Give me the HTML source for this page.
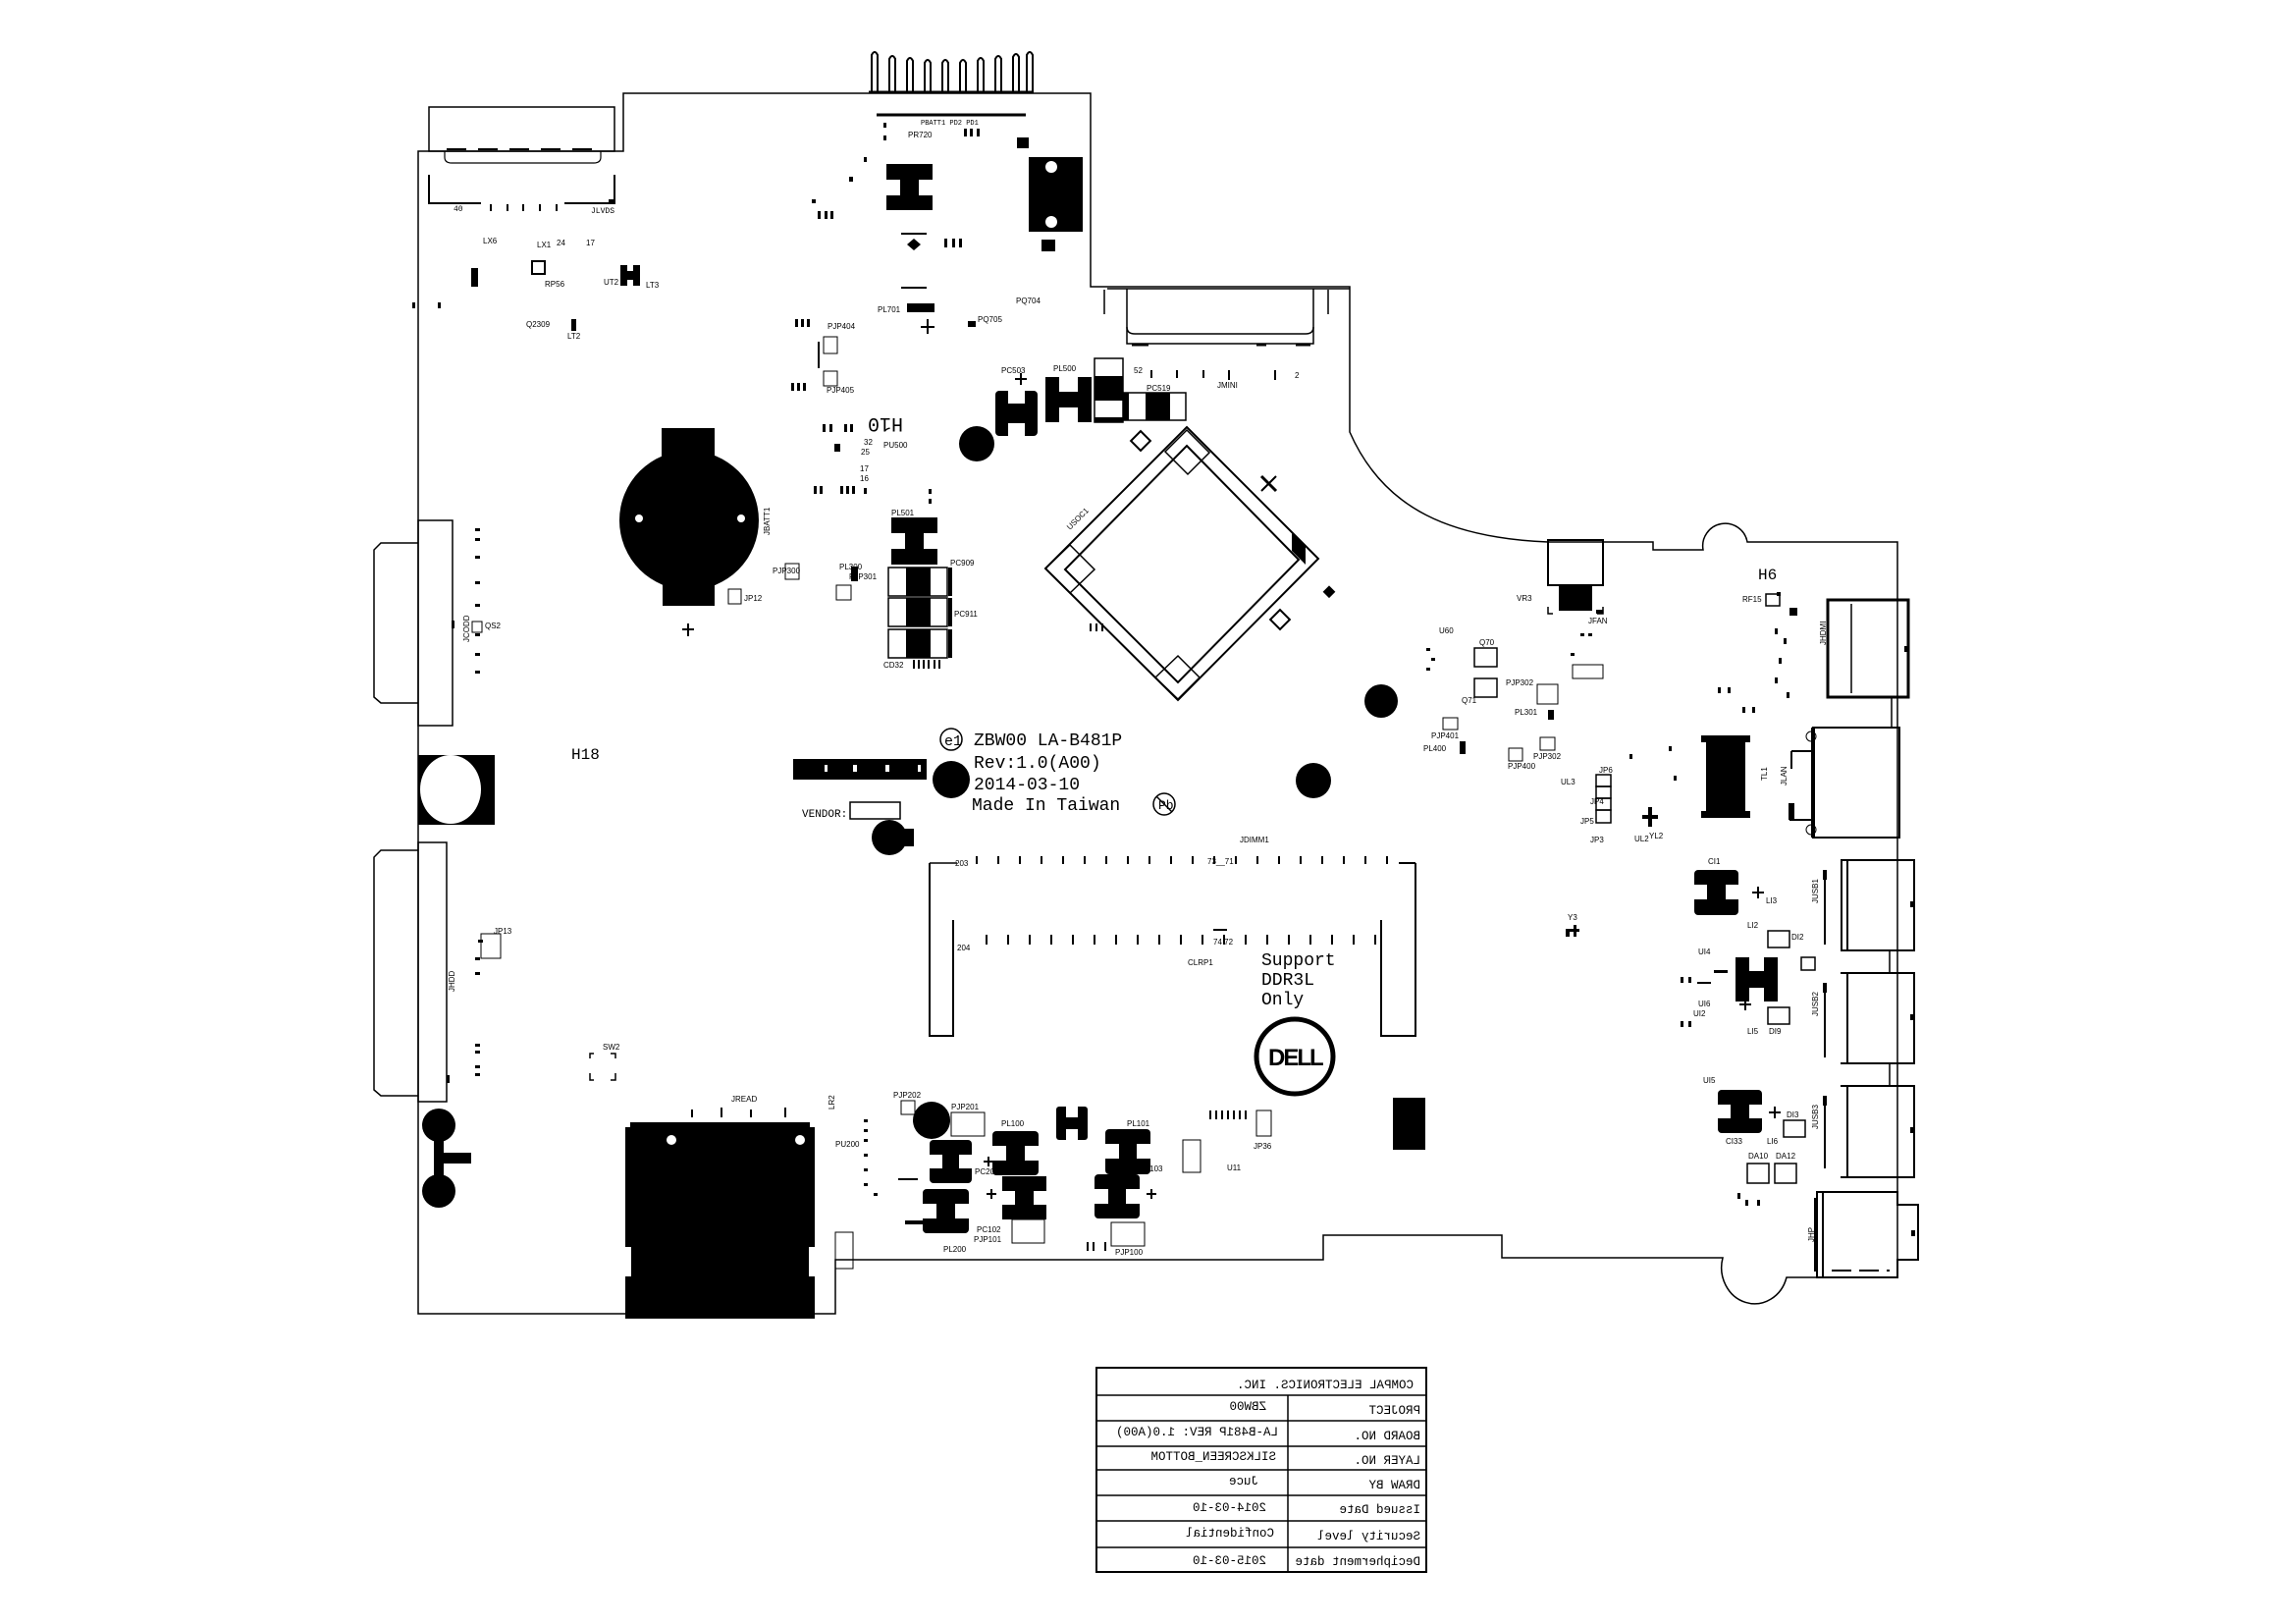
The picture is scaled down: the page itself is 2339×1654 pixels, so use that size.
<!DOCTYPE html>
<html><head><meta charset="utf-8"><style>
html,body{margin:0;padding:0;background:#fff;}
svg{display:block;}
text{font-family:"Liberation Mono",monospace;fill:#000;}
.s{font-family:"Liberation Sans",sans-serif;font-size:8px;}
</style></head><body>
<svg width="2339" height="1654" viewBox="0 0 2339 1654" xmlns="http://www.w3.org/2000/svg">
<rect width="2339" height="1654" fill="#fff"/>
<!-- board outline -->
<path d="M426,154 H635 V95 H1111 V292 H1375 V440 C1410,520 1480,548 1577,552 H1684 V560 H1735 A22,22 0 0 1 1780,552 H1933 V1301 H1820 A33,36 0 0 1 1755,1281 H1530 V1258 H1348 V1283 H851 V1338 H426 Z" fill="none" stroke="#000" stroke-width="1.5"/>
<!-- battery connector top -->
<g stroke="#000" stroke-width="2" fill="none">
<path d="M888,95 V56 Q891,50 894,56 V95 M906,95 V60 Q909,54 912,60 V95 M924,95 V62 Q927,56 930,62 V95 M942,95 V64 Q945,58 948,64 V95 M960,95 V64 Q963,58 966,64 V95 M978,95 V64 Q981,58 984,64 V95 M996,95 V62 Q999,56 1002,62 V95 M1014,95 V60 Q1017,54 1020,60 V95 M1032,95 V58 Q1035,52 1038,58 V95 M1046,95 V56 Q1049,50 1052,56 V95"/>
</g>
<line x1="885" y1="94" x2="1053" y2="94" stroke="#000" stroke-width="3"/>
<line x1="893" y1="117" x2="1045" y2="117" stroke="#000" stroke-width="3"/>
<text x="938" y="127" style="font-size:7px">PBATT1 PD2 PD1</text>
<!-- top-left connector -->
<rect x="437" y="109" width="189" height="45" fill="none" stroke="#000" stroke-width="1.5"/>
<path d="M453,154 V160 Q453,166 460,166 H605 Q612,166 612,160 V154" fill="none" stroke="#000" stroke-width="1.2"/>
<line x1="455" y1="152" x2="610" y2="152" stroke="#000" stroke-width="2" stroke-dasharray="20,12"/>
<path d="M437,178 V207 H490 M626,178 V207 H575" fill="none" stroke="#000" stroke-width="2"/>
<rect x="620" y="203" width="7" height="5"/>
<text x="462" y="215" style="font-size:8px">40</text><text x="602" y="217" style="font-size:8px">JLVDS</text>
<g stroke="#000" stroke-width="2"><line x1="500" y1="208" x2="500" y2="215"/><line x1="517" y1="208" x2="517" y2="215"/><line x1="533" y1="208" x2="533" y2="215"/><line x1="550" y1="208" x2="550" y2="215"/><line x1="567" y1="208" x2="567" y2="215"/></g>
<rect x="480" y="273" width="7" height="19"/><rect x="632" y="270" width="20" height="21"/><rect x="639" y="270" width="6" height="6" fill="#fff"/><rect x="639" y="285" width="6" height="6" fill="#fff"/>
<rect x="542" y="266" width="13" height="13" fill="none" stroke="#000" stroke-width="2"/>
<text x="492" y="248" class="s">LX6</text><text x="547" y="252" class="s">LX1</text><text x="567" y="250" class="s">24</text><text x="597" y="250" class="s">17</text><text x="555" y="292" class="s">RP56</text><text x="536" y="333" class="s">Q2309</text><text x="578" y="345" class="s">LT2</text><text x="615" y="290" class="s">UT2</text><text x="658" y="293" class="s">LT3</text>
<rect x="582" y="325" width="5" height="12"/>
<!-- top middle components -->
<rect x="903" y="167" width="47" height="47"/><rect x="903" y="183" width="14" height="16" fill="#fff"/><rect x="936" y="183" width="14" height="16" fill="#fff"/>
<rect x="1048" y="160" width="55" height="76"/><circle cx="1071" cy="170" r="6" fill="#fff"/><circle cx="1071" cy="226" r="6" fill="#fff"/>
<rect x="1061" y="244" width="14" height="12"/><rect x="1036" y="140" width="12" height="11"/>
<rect x="924" y="309" width="28" height="9"/>
<line x1="918" y1="238" x2="944" y2="238" stroke="#000" stroke-width="2"/><line x1="918" y1="293" x2="944" y2="293" stroke="#000" stroke-width="2"/>
<path d="M924,249 L931,243 L938,249 L931,255 Z" fill="#000"/>
<text x="925" y="140" class="s">PR720</text><text x="894" y="318" class="s">PL701</text><text x="996" y="328" class="s">PQ705</text><text x="1035" y="309" class="s">PQ704</text><text x="843" y="335" class="s">PJP404</text><text x="842" y="400" class="s">PJP405</text>
<line x1="945" y1="325" x2="945" y2="340" stroke="#000" stroke-width="2"/><line x1="938" y1="333" x2="952" y2="333" stroke="#000" stroke-width="2"/>
<rect x="839" y="343" width="14" height="17" fill="none" stroke="#000"/><rect x="839" y="378" width="14" height="15" fill="none" stroke="#000"/>
<line x1="834" y1="348" x2="834" y2="375" stroke="#000" stroke-width="2"/>
<rect x="986" y="327" width="8" height="6"/>
<!-- JMINI connector -->
<path d="M1128,294 H1148 V350 H1338 V294 H1375 M1148,304 V294 H1338" fill="none" stroke="#000" stroke-width="1.5"/>
<path d="M1125,295 V320 M1353,295 V320 M1148,333 Q1148,340 1156,340 H1330 Q1338,340 1338,333" fill="none" stroke="#000" stroke-width="1.5"/>
<line x1="1153" y1="351" x2="1170" y2="351" stroke="#000" stroke-width="3"/><line x1="1280" y1="351" x2="1290" y2="351" stroke="#000" stroke-width="3"/><line x1="1320" y1="351" x2="1335" y2="351" stroke="#000" stroke-width="3"/>
<g stroke="#000" stroke-width="2"><line x1="1173" y1="377" x2="1173" y2="385"/><line x1="1199" y1="377" x2="1199" y2="385"/><line x1="1226" y1="377" x2="1226" y2="385"/><line x1="1252" y1="377" x2="1252" y2="387"/><line x1="1299" y1="377" x2="1299" y2="387"/></g>
<text x="1155" y="380" class="s">52</text><text x="1319" y="385" class="s">2</text><text x="1240" y="395" class="s">JMINI</text>
<!-- power block near PL500 -->
<rect x="1014" y="398" width="43" height="46" rx="4"/><rect x="1027" y="398" width="17" height="13" fill="#fff"/><rect x="1027" y="431" width="17" height="13" fill="#fff"/>
<rect x="1065" y="384" width="47" height="46"/><rect x="1079" y="384" width="19" height="15" fill="#fff"/><rect x="1079" y="415" width="19" height="15" fill="#fff"/>
<rect x="1115" y="365" width="29" height="65" fill="#fff" stroke="#000" stroke-width="1.5"/><rect x="1115" y="383" width="29" height="25"/><rect x="1115" y="425" width="29" height="5"/>
<rect x="1145" y="400" width="63" height="28" fill="#fff" stroke="#000" stroke-width="1.5"/><rect x="1167" y="400" width="25" height="28"/><rect x="1145" y="400" width="5" height="28"/>
<line x1="1040" y1="380" x2="1040" y2="392" stroke="#000" stroke-width="2"/><line x1="1034" y1="386" x2="1046" y2="386" stroke="#000" stroke-width="2"/>
<text x="1020" y="380" class="s">PC503</text><text x="1073" y="378" class="s">PL500</text><text x="1168" y="398" class="s">PC519</text>
<!-- H10 and circles -->
<text x="944" y="440" transform="rotate(180 932 433)" style="font-size:20px">H10</text>
<circle cx="995" cy="452" r="18"/>
<!-- left small components around PU500 -->
<text x="880" y="453" class="s">32</text><text x="877" y="463" class="s">25</text><text x="900" y="456" class="s">PU500</text><text x="876" y="480" class="s">17</text><text x="876" y="490" class="s">16</text>
<rect x="850" y="452" width="6" height="8"/>
<!-- coin battery -->
<circle cx="702" cy="530" r="71"/>
<rect x="674" y="436" width="54" height="40"/><rect x="675" y="580" width="53" height="37"/>
<circle cx="651" cy="528" r="4" fill="#fff"/><circle cx="755" cy="528" r="4" fill="#fff"/>
<text x="784" y="545" class="s" transform="rotate(-90 784 545)">JBATT1</text>
<line x1="701" y1="635" x2="701" y2="648" stroke="#000" stroke-width="2"/><line x1="695" y1="641" x2="707" y2="641" stroke="#000" stroke-width="2"/>
<rect x="742" y="600" width="13" height="15" fill="none" stroke="#000"/><text x="758" y="612" class="s">JP12</text>
<rect x="800" y="574" width="14" height="16" fill="none" stroke="#000"/><text x="787" y="584" class="s">PJP300</text>
<rect x="852" y="596" width="15" height="15" fill="none" stroke="#000"/><text x="865" y="590" class="s">PJP301</text>
<rect x="867" y="577" width="7" height="15"/><text x="855" y="580" class="s">PL300</text>
<!-- PL501 & caps -->
<rect x="908" y="527" width="47" height="48"/><rect x="908" y="543" width="14" height="16" fill="#fff"/><rect x="941" y="543" width="14" height="16" fill="#fff"/>
<g fill="#fff" stroke="#000" stroke-width="1.5"><rect x="905" y="578" width="60" height="29"/><rect x="905" y="609" width="60" height="29"/><rect x="905" y="641" width="60" height="29"/></g>
<rect x="923" y="578" width="25" height="29"/><rect x="923" y="609" width="25" height="29"/><rect x="923" y="641" width="25" height="29"/>
<rect x="966" y="578" width="4" height="29"/><rect x="966" y="609" width="4" height="29"/><rect x="966" y="641" width="4" height="29"/>
<text x="908" y="525" class="s">PL501</text><text x="968" y="576" class="s">PC909</text><text x="972" y="628" class="s">PC911</text><text x="900" y="680" class="s">CD32</text>
<!-- CPU socket -->
<polygon points="1209,435 1343,569 1200,713 1065,579" fill="none" stroke="#000" stroke-width="2"/>
<polygon points="1209,454 1323,570 1200,695 1085,580" fill="none" stroke="#000" stroke-width="2"/>
<polygon points="1187,460 1209,438 1232,461 1210,483" fill="none" stroke="#000" stroke-width="1.5"/>
<polygon points="1065,579 1090,555 1115,580 1090,604" fill="none" stroke="#000" stroke-width="1.5"/>
<polygon points="1177,690 1200,668 1222,690 1200,712" fill="none" stroke="#000" stroke-width="1.5"/>
<polygon points="1316,542 1330,556 1330,575 1316,561" fill="#000"/>
<rect x="1155" y="442" width="14" height="14" fill="none" stroke="#000" stroke-width="2" transform="rotate(45 1162 449)"/>
<rect x="1297" y="624" width="14" height="14" fill="none" stroke="#000" stroke-width="2" transform="rotate(45 1304 631)"/>
<rect x="1350" y="598" width="9" height="9" transform="rotate(45 1354 602)"/>
<line x1="1285" y1="485" x2="1300" y2="500" stroke="#000" stroke-width="3"/><line x1="1300" y1="485" x2="1285" y2="500" stroke="#000" stroke-width="2"/>
<text x="1090" y="540" class="s" transform="rotate(-45 1090 540)">USOC1</text>
<circle cx="1407" cy="714" r="17"/>
<!-- left connectors -->
<rect x="426" y="530" width="35" height="209" fill="none" stroke="#000" stroke-width="1.5"/>
<path d="M426,553 H388 L381,560 V710 L388,716 H426" fill="none" stroke="#000" stroke-width="1.5"/>
<rect x="460" y="632" width="3" height="8"/>
<text x="478" y="654" class="s" transform="rotate(-90 478 654)">JCODD</text>
<rect x="481" y="633" width="10" height="11" fill="none" stroke="#000"/><text x="494" y="640" class="s">QS2</text>
<rect x="426" y="858" width="29" height="264" fill="none" stroke="#000" stroke-width="1.5"/>
<path d="M426,866 H388 L381,873 V1110 L388,1116 H426" fill="none" stroke="#000" stroke-width="1.5"/>
<rect x="455" y="1095" width="3" height="8"/>
<text x="463" y="1010" class="s" transform="rotate(-90 463 1010)">JHDD</text>
<rect x="490" y="951" width="20" height="25" fill="none" stroke="#000"/><text x="503" y="951" class="s">JP13</text>
<rect x="426" y="769" width="78" height="71"/><ellipse cx="459" cy="804" rx="31" ry="35" fill="#fff"/>
<text x="582" y="773" style="font-size:16px">H18</text>
<!-- left bottom key -->
<circle cx="447" cy="1146" r="17"/><circle cx="447" cy="1213" r="17"/><rect x="442" y="1146" width="10" height="67"/><rect x="447" y="1174" width="33" height="11"/>
<path d="M601,1078 V1073 H605 M622,1073 H627 V1078 M601,1093 V1100 H605 M622,1100 H627 V1093" fill="none" stroke="#000" stroke-width="1.5"/><text x="614" y="1069" class="s">SW2</text>
<!-- marking text -->
<circle cx="969" cy="753" r="11" fill="none" stroke="#000" stroke-width="1.5"/><text x="962" y="759" style="font-size:15px">e1</text>
<text x="992" y="759" style="font-size:18px">ZBW00 LA-B481P</text>
<text x="992" y="782" style="font-size:18px">Rev:1.0(A00)</text>
<text x="992" y="804" style="font-size:18px">2014-03-10</text>
<text x="990" y="825" style="font-size:18px">Made In Taiwan</text>
<circle cx="1186" cy="819" r="11" fill="none" stroke="#000" stroke-width="1.5"/><text x="1180" y="824" style="font-size:13px">Pb</text><line x1="1178" y1="811" x2="1194" y2="827" stroke="#000" stroke-width="1.5"/>
<circle cx="969" cy="794" r="19"/><circle cx="1338" cy="795" r="18"/>
<rect x="808" y="773" width="136" height="21"/>
<g fill="#fff"><rect x="840" y="779" width="3" height="7"/><rect x="869" y="779" width="4" height="7"/><rect x="902" y="779" width="4" height="7"/><rect x="935" y="779" width="3" height="7"/></g>
<rect x="866" y="817" width="51" height="17" fill="none" stroke="#000" stroke-width="1.5"/><text x="817" y="832" style="font-size:11px">VENDOR:</text>
<circle cx="906" cy="853" r="18"/><rect x="906" y="844" width="25" height="18"/>
<!-- DIMM -->
<path d="M947,879 V1055 H971 V937 M1442,879 V1055 H1407 V937" fill="none" stroke="#000" stroke-width="2"/>
<line x1="947" y1="879" x2="975" y2="879" stroke="#000" stroke-width="1.5"/><line x1="1425" y1="879" x2="1442" y2="879" stroke="#000" stroke-width="2"/>
<g stroke="#000" stroke-width="2">
<line x1="995" y1="872" x2="995" y2="880"/><line x1="1017" y1="872" x2="1017" y2="880"/><line x1="1039" y1="872" x2="1039" y2="880"/><line x1="1061" y1="872" x2="1061" y2="880"/><line x1="1083" y1="872" x2="1083" y2="880"/><line x1="1105" y1="872" x2="1105" y2="880"/><line x1="1127" y1="872" x2="1127" y2="880"/><line x1="1149" y1="872" x2="1149" y2="880"/><line x1="1171" y1="872" x2="1171" y2="880"/><line x1="1193" y1="872" x2="1193" y2="880"/><line x1="1215" y1="872" x2="1215" y2="880"/><line x1="1237" y1="872" x2="1237" y2="880"/><line x1="1259" y1="872" x2="1259" y2="880"/><line x1="1281" y1="872" x2="1281" y2="880"/><line x1="1303" y1="872" x2="1303" y2="880"/><line x1="1325" y1="872" x2="1325" y2="880"/><line x1="1347" y1="872" x2="1347" y2="880"/><line x1="1369" y1="872" x2="1369" y2="880"/><line x1="1391" y1="872" x2="1391" y2="880"/><line x1="1413" y1="872" x2="1413" y2="880"/>
<line x1="1005" y1="952" x2="1005" y2="962"/><line x1="1027" y1="952" x2="1027" y2="962"/><line x1="1049" y1="952" x2="1049" y2="962"/><line x1="1071" y1="952" x2="1071" y2="962"/><line x1="1093" y1="952" x2="1093" y2="962"/><line x1="1115" y1="952" x2="1115" y2="962"/><line x1="1137" y1="952" x2="1137" y2="962"/><line x1="1159" y1="952" x2="1159" y2="962"/><line x1="1181" y1="952" x2="1181" y2="962"/><line x1="1203" y1="952" x2="1203" y2="962"/><line x1="1225" y1="952" x2="1225" y2="962"/><line x1="1247" y1="952" x2="1247" y2="962"/><line x1="1269" y1="952" x2="1269" y2="962"/><line x1="1291" y1="952" x2="1291" y2="962"/><line x1="1313" y1="952" x2="1313" y2="962"/><line x1="1335" y1="952" x2="1335" y2="962"/><line x1="1357" y1="952" x2="1357" y2="962"/><line x1="1379" y1="952" x2="1379" y2="962"/><line x1="1401" y1="952" x2="1401" y2="962"/>
</g>
<line x1="1236" y1="947" x2="1250" y2="947" stroke="#000" stroke-width="2"/>
<text x="973" y="882" class="s">203</text><text x="1230" y="880" class="s">73__71</text><text x="1263" y="858" class="s">JDIMM1</text><text x="975" y="968" class="s">204</text><text x="1236" y="962" class="s">74 72</text><text x="1210" y="983" class="s">CLRP1</text>
<text x="1285" y="983" style="font-size:18px;font-family:'Liberation Mono',monospace">Support</text>
<text x="1285" y="1003" style="font-size:18px">DDR3L</text>
<text x="1285" y="1023" style="font-size:18px">Only</text>
<!-- DELL logo -->
<ellipse cx="1319" cy="1076" rx="39" ry="38" fill="none" stroke="#000" stroke-width="5"/>
<text x="1292" y="1085" style="font-family:'Liberation Sans',sans-serif;font-weight:bold;font-size:24px;letter-spacing:-2px">DELL</text>
<rect x="1419" y="1118" width="33" height="53"/>
<!-- JREAD -->
<rect x="637" y="1143" width="193" height="200"/><circle cx="684" cy="1161" r="5" fill="#fff"/><circle cx="815" cy="1161" r="5" fill="#fff"/>
<rect x="637" y="1143" width="5" height="5" fill="#fff"/><rect x="825" y="1143" width="5" height="5" fill="#fff"/>
<rect x="637" y="1270" width="6" height="30" fill="#fff"/><rect x="824" y="1270" width="6" height="30" fill="#fff"/>
<g stroke="#000" stroke-width="2"><line x1="705" y1="1130" x2="705" y2="1138"/><line x1="735" y1="1128" x2="735" y2="1138"/><line x1="765" y1="1130" x2="765" y2="1138"/><line x1="800" y1="1128" x2="800" y2="1138"/></g>
<text x="745" y="1122" class="s">JREAD</text><text x="850" y="1130" class="s" transform="rotate(-90 850 1130)">LR2</text>
<!-- bottom power -->
<rect x="947" y="1161" width="43" height="44" rx="4"/><rect x="947" y="1176" width="13" height="14" fill="#fff"/><rect x="977" y="1176" width="13" height="14" fill="#fff"/>
<rect x="940" y="1211" width="47" height="45" rx="4"/><rect x="940" y="1226" width="14" height="15" fill="#fff"/><rect x="973" y="1226" width="14" height="15" fill="#fff"/>
<rect x="1011" y="1152" width="47" height="45" rx="4"/><rect x="1011" y="1167" width="14" height="15" fill="#fff"/><rect x="1044" y="1167" width="14" height="15" fill="#fff"/>
<rect x="1021" y="1198" width="45" height="44"/><rect x="1021" y="1213" width="13" height="14" fill="#fff"/><rect x="1053" y="1213" width="13" height="14" fill="#fff"/>
<rect x="1126" y="1150" width="46" height="46" rx="4"/><rect x="1126" y="1165" width="14" height="15" fill="#fff"/><rect x="1158" y="1165" width="14" height="15" fill="#fff"/>
<rect x="1115" y="1196" width="46" height="45" rx="4"/><rect x="1115" y="1211" width="14" height="15" fill="#fff"/><rect x="1147" y="1211" width="14" height="15" fill="#fff"/>
<rect x="1076" y="1127" width="32" height="34" rx="3"/><rect x="1086" y="1127" width="12" height="11" fill="#fff"/><rect x="1086" y="1150" width="12" height="11" fill="#fff"/>
<circle cx="949" cy="1141" r="19"/>
<rect x="918" y="1121" width="14" height="14" fill="none" stroke="#000"/><rect x="969" y="1133" width="34" height="24" fill="none" stroke="#000"/>
<rect x="1031" y="1242" width="33" height="24" fill="none" stroke="#000"/><rect x="1132" y="1245" width="34" height="24" fill="none" stroke="#000"/>
<rect x="851" y="1255" width="18" height="37" fill="none" stroke="#000"/>
<rect x="1205" y="1161" width="18" height="33" fill="none" stroke="#000"/><rect x="1280" y="1131" width="15" height="26" fill="none" stroke="#000"/>
<g stroke="#000" stroke-width="2"><path d="M1002,1183 h10 M1007,1178 v10 M1005,1216 h10 M1010,1211 v10 M1168,1216 h10 M1173,1211 v10"/></g>
<text x="910" y="1118" class="s">PJP202</text><text x="969" y="1130" class="s">PJP201</text><text x="1020" y="1147" class="s">PL100</text><text x="1148" y="1147" class="s">PL101</text><text x="993" y="1196" class="s">PC201</text><text x="1160" y="1193" class="s">PC103</text><text x="995" y="1255" class="s">PC102</text><text x="992" y="1265" class="s">PJP101</text><text x="961" y="1275" class="s">PL200</text><text x="1136" y="1278" class="s">PJP100</text><text x="1277" y="1170" class="s">JP36</text><text x="1250" y="1192" class="s">U11</text><text x="851" y="1168" class="s">PU200</text>
<rect x="922" y="1243" width="18" height="4"/><rect x="915" y="1200" width="20" height="2"/>
<!-- right area -->
<rect x="1577" y="550" width="56" height="46" fill="none" stroke="#000" stroke-width="2"/><rect x="1588" y="596" width="34" height="26"/>
<path d="M1577,618 V625 H1582 M1633,618 V625 H1627" fill="none" stroke="#000" stroke-width="1.5"/><rect x="1626" y="621" width="7" height="4"/>
<text x="1618" y="635" class="s">JFAN</text>
<rect x="1602" y="677" width="31" height="14" fill="none" stroke="#000"/>
<text x="1791" y="590" style="font-size:16px">H6</text>
<rect x="1799" y="605" width="14" height="12" fill="none" stroke="#000" stroke-width="1.5"/><rect x="1810" y="603" width="4" height="4"/><text x="1775" y="613" class="s">RF15</text>
<rect x="1823" y="619" width="8" height="8"/>
<rect x="1862" y="611" width="82" height="99" fill="none" stroke="#000" stroke-width="3"/><line x1="1886" y1="615" x2="1886" y2="706" stroke="#000" stroke-width="1.5"/><rect x="1940" y="658" width="3" height="6"/>
<text x="1863" y="660" class="s" transform="rotate(-90 1860 660)">JHDMI</text>
<text x="1545" y="612" class="s">VR3</text>
<!-- Q70 etc -->
<rect x="1502" y="660" width="23" height="19" fill="none" stroke="#000" stroke-width="1.5"/><rect x="1502" y="691" width="23" height="19" fill="none" stroke="#000" stroke-width="1.5"/>
<text x="1507" y="657" class="s">Q70</text><text x="1489" y="716" class="s">Q71</text><text x="1466" y="645" class="s">U60</text>
<rect x="1566" y="697" width="21" height="20" fill="none" stroke="#000"/><text x="1534" y="698" class="s">PJP302</text>
<rect x="1577" y="723" width="6" height="10"/><text x="1543" y="728" class="s">PL301</text>
<rect x="1470" y="731" width="15" height="12" fill="none" stroke="#000"/><text x="1458" y="752" class="s">PJP401</text>
<rect x="1487" y="755" width="6" height="13"/><text x="1450" y="765" class="s">PL400</text>
<rect x="1537" y="762" width="14" height="13" fill="none" stroke="#000"/><text x="1536" y="783" class="s">PJP400</text>
<rect x="1569" y="751" width="15" height="13" fill="none" stroke="#000"/><text x="1562" y="773" class="s">PJP302</text>
<g fill="none" stroke="#000" stroke-width="1.5"><rect x="1626" y="789" width="15" height="12"/><rect x="1626" y="801" width="15" height="12"/><rect x="1626" y="813" width="15" height="12"/><rect x="1626" y="825" width="15" height="13"/></g>
<text x="1629" y="787" class="s">JP6</text><text x="1620" y="819" class="s">JP4</text><text x="1610" y="839" class="s">JP5</text><text x="1620" y="858" class="s">JP3</text><text x="1665" y="857" class="s">UL2</text><text x="1680" y="854" class="s">YL2</text><text x="1590" y="799" class="s">UL3</text>
<rect x="1673" y="830" width="16" height="4"/><rect x="1679" y="822" width="4" height="20"/>
<rect x="1733" y="749" width="50" height="84"/><rect x="1733" y="756" width="5" height="70" fill="#fff"/><rect x="1778" y="756" width="5" height="70" fill="#fff"/>
<rect x="1733" y="749" width="50" height="84" fill="none" stroke="#000" stroke-width="0"/>
<text x="1800" y="795" class="s" transform="rotate(-90 1800 795)">TL1</text><text x="1820" y="800" class="s" transform="rotate(-90 1820 800)">JLAN</text>
<path d="M1847,741 H1935 V853 H1847 Z" fill="none" stroke="#000" stroke-width="2"/><path d="M1847,741 V853 M1825,765 H1847 M1825,765 V783 M1823,835 V818 M1823,835 H1847" fill="none" stroke="#000" stroke-width="2"/>
<rect x="1823" y="818" width="5" height="17"/>
<rect x="1845" y="741" width="4" height="112"/>
<circle cx="1845" cy="750" r="5" fill="none" stroke="#000"/><circle cx="1845" cy="845" r="5" fill="none" stroke="#000"/>
<line x1="1927" y1="710" x2="1927" y2="741" stroke="#000" stroke-width="1.5"/>
<!-- USB ports -->
<g fill="none" stroke="#000" stroke-width="2">
<path d="M1875,876 H1950 V968 H1875 M1882,876 V968"/>
<path d="M1875,991 H1950 V1083 H1875 M1882,991 V1083"/>
<path d="M1875,1106 H1950 V1199 H1875 M1882,1106 V1199"/>
<path d="M1851,1214 H1933 V1227 H1954 V1283 H1933 V1301 H1851 Z M1857,1214 V1301"/>
</g>
<line x1="1876" y1="876" x2="1876" y2="968" stroke="#000" stroke-width="2"/>
<rect x="1857" y="886" width="4" height="10"/><line x1="1859" y1="886" x2="1859" y2="962" stroke="#000" stroke-width="2"/>
<line x1="1859" y1="1001" x2="1859" y2="1077" stroke="#000" stroke-width="2"/><rect x="1857" y="1001" width="4" height="10"/>
<line x1="1859" y1="1116" x2="1859" y2="1190" stroke="#000" stroke-width="2"/><rect x="1857" y="1116" width="4" height="10"/>
<line x1="1849" y1="1220" x2="1849" y2="1295" stroke="#000" stroke-width="2"/>
<line x1="1866" y1="1294" x2="1925" y2="1294" stroke="#000" stroke-width="2" stroke-dasharray="20,8"/>
<rect x="1946" y="918" width="4" height="6"/><rect x="1946" y="1033" width="4" height="6"/><rect x="1946" y="1148" width="4" height="6"/><rect x="1947" y="1253" width="4" height="6"/>
<line x1="1925" y1="968" x2="1925" y2="991" stroke="#000" stroke-width="1.5"/><line x1="1925" y1="1083" x2="1925" y2="1106" stroke="#000" stroke-width="1.5"/>
<text x="1852" y="920" class="s" transform="rotate(-90 1852 920)">JUSB1</text><text x="1852" y="1035" class="s" transform="rotate(-90 1852 1035)">JUSB2</text><text x="1852" y="1150" class="s" transform="rotate(-90 1852 1150)">JUSB3</text><text x="1848" y="1265" class="s" transform="rotate(-90 1848 1265)">JHP</text>
<!-- right inductors -->
<rect x="1726" y="886" width="45" height="46" rx="4"/><rect x="1726" y="901" width="13" height="15" fill="#fff"/><rect x="1758" y="901" width="13" height="15" fill="#fff"/>
<rect x="1768" y="975" width="43" height="45"/><rect x="1782" y="975" width="15" height="14" fill="#fff"/><rect x="1782" y="1006" width="15" height="14" fill="#fff"/>
<rect x="1750" y="1110" width="45" height="44" rx="4"/><rect x="1750" y="1125" width="13" height="14" fill="#fff"/><rect x="1782" y="1125" width="13" height="14" fill="#fff"/>
<g stroke="#000" stroke-width="2"><path d="M1785,909 h12 M1791,903 v12 M1772,1023 h12 M1778,1017 v12 M1802,1133 h12 M1808,1127 v12"/></g>
<g fill="none" stroke="#000" stroke-width="1.5"><rect x="1801" y="948" width="22" height="17"/><rect x="1801" y="1026" width="22" height="17"/><rect x="1817" y="1141" width="22" height="17"/><rect x="1780" y="1185" width="22" height="20"/><rect x="1808" y="1185" width="22" height="20"/><rect x="1835" y="975" width="14" height="13"/></g>
<text x="1740" y="880" class="s">CI1</text><text x="1758" y="1165" class="s">CI33</text><text x="1781" y="1180" class="s">DA10</text><text x="1809" y="1180" class="s">DA12</text><text x="1825" y="957" class="s">DI2</text><text x="1802" y="1053" class="s">DI9</text><text x="1820" y="1138" class="s">DI3</text><text x="1799" y="920" class="s">LI3</text><text x="1780" y="945" class="s">LI2</text><text x="1780" y="1053" class="s">LI5</text><text x="1800" y="1165" class="s">LI6</text><text x="1730" y="972" class="s">UI4</text><text x="1730" y="1025" class="s">UI6</text><text x="1735" y="1103" class="s">UI5</text><text x="1725" y="1035" class="s">UI2</text>
<rect x="1746" y="988" width="14" height="3"/><rect x="1729" y="1000" width="14" height="2"/>
<rect x="1595" y="946" width="4" height="8"/><rect x="1599" y="946" width="10" height="3"/><rect x="1603" y="942" width="3" height="12"/><text x="1597" y="937" class="s">Y3</text>
<!-- scattered small components -->
<g fill="#000">
<rect x="900" y="125" width="3" height="5"/><rect x="900" y="138" width="3" height="5"/><rect x="880" y="160" width="3" height="5"/><rect x="865" y="180" width="4" height="5"/><rect x="827" y="203" width="4" height="4"/><rect x="833" y="215" width="3" height="8"/><rect x="840" y="215" width="3" height="8"/><rect x="846" y="215" width="3" height="8"/>
<rect x="982" y="131" width="3" height="8"/><rect x="988" y="131" width="3" height="8"/><rect x="995" y="131" width="3" height="8"/>
<rect x="962" y="243" width="3" height="9"/><rect x="970" y="243" width="3" height="9"/><rect x="977" y="243" width="3" height="9"/>
<rect x="810" y="325" width="3" height="8"/><rect x="816" y="325" width="3" height="8"/><rect x="822" y="325" width="3" height="8"/>
<rect x="806" y="390" width="3" height="8"/><rect x="812" y="390" width="3" height="8"/><rect x="818" y="390" width="3" height="8"/>
<rect x="838" y="432" width="3" height="8"/><rect x="845" y="432" width="3" height="8"/><rect x="860" y="432" width="3" height="8"/><rect x="866" y="432" width="3" height="8"/>
<rect x="829" y="495" width="3" height="8"/><rect x="835" y="495" width="3" height="8"/><rect x="856" y="495" width="3" height="8"/><rect x="862" y="495" width="3" height="8"/><rect x="868" y="495" width="3" height="8"/><rect x="880" y="497" width="3" height="6"/>
<rect x="946" y="498" width="3" height="5"/><rect x="946" y="508" width="3" height="5"/>
<rect x="930" y="672" width="2" height="9"/><rect x="935" y="672" width="2" height="9"/><rect x="940" y="672" width="2" height="9"/><rect x="945" y="672" width="2" height="9"/><rect x="951" y="672" width="2" height="9"/><rect x="956" y="672" width="2" height="9"/>
<rect x="1110" y="635" width="2" height="8"/><rect x="1116" y="635" width="2" height="8"/><rect x="1122" y="635" width="2" height="8"/>
<rect x="484" y="538" width="5" height="3"/><rect x="484" y="548" width="5" height="3"/><rect x="484" y="566" width="5" height="3"/><rect x="484" y="592" width="5" height="3"/><rect x="484" y="615" width="5" height="3"/><rect x="484" y="645" width="5" height="3"/><rect x="484" y="665" width="5" height="3"/><rect x="484" y="683" width="5" height="3"/>
<rect x="484" y="1063" width="5" height="3"/><rect x="484" y="1070" width="5" height="3"/><rect x="484" y="1085" width="5" height="3"/><rect x="484" y="1093" width="5" height="3"/><rect x="484" y="990" width="5" height="3"/><rect x="484" y="975" width="5" height="3"/><rect x="487" y="957" width="5" height="3"/>
<rect x="446" y="308" width="3" height="6"/><rect x="420" y="308" width="3" height="6"/>
<rect x="1232" y="1131" width="2" height="9"/><rect x="1238" y="1131" width="2" height="9"/><rect x="1244" y="1131" width="2" height="9"/><rect x="1250" y="1131" width="2" height="9"/><rect x="1256" y="1131" width="2" height="9"/><rect x="1262" y="1131" width="2" height="9"/><rect x="1268" y="1131" width="2" height="9"/>
<rect x="880" y="1140" width="4" height="3"/><rect x="880" y="1150" width="4" height="3"/><rect x="880" y="1160" width="4" height="3"/><rect x="880" y="1175" width="4" height="3"/><rect x="880" y="1190" width="4" height="3"/><rect x="880" y="1205" width="4" height="3"/><rect x="890" y="1215" width="4" height="3"/>
<rect x="1107" y="1265" width="2" height="9"/><rect x="1113" y="1265" width="2" height="9"/><rect x="1125" y="1265" width="2" height="9"/>
<rect x="1453" y="660" width="4" height="3"/><rect x="1458" y="670" width="4" height="3"/><rect x="1453" y="680" width="4" height="3"/>
<rect x="1610" y="645" width="4" height="3"/><rect x="1618" y="645" width="4" height="3"/><rect x="1600" y="665" width="4" height="3"/>
<rect x="1660" y="768" width="3" height="5"/><rect x="1700" y="760" width="3" height="5"/><rect x="1705" y="790" width="3" height="5"/>
<rect x="1808" y="640" width="3" height="6"/><rect x="1817" y="650" width="3" height="6"/><rect x="1812" y="670" width="3" height="6"/><rect x="1808" y="690" width="3" height="6"/><rect x="1820" y="705" width="3" height="6"/>
<rect x="1750" y="700" width="3" height="6"/><rect x="1760" y="700" width="3" height="6"/><rect x="1775" y="720" width="3" height="6"/><rect x="1785" y="720" width="3" height="6"/>
<rect x="1712" y="995" width="3" height="6"/><rect x="1720" y="995" width="3" height="6"/><rect x="1712" y="1040" width="3" height="6"/><rect x="1720" y="1040" width="3" height="6"/>
<rect x="1770" y="1215" width="3" height="6"/><rect x="1778" y="1222" width="3" height="6"/><rect x="1790" y="1222" width="3" height="6"/>
</g>
<!-- title block (mirrored) -->
<rect x="1117" y="1393" width="336" height="208" fill="none" stroke="#000" stroke-width="2"/>
<g stroke="#000" stroke-width="1.5">
<line x1="1117" y1="1421" x2="1453" y2="1421"/><line x1="1117" y1="1447" x2="1453" y2="1447"/><line x1="1117" y1="1473" x2="1453" y2="1473"/><line x1="1117" y1="1497" x2="1453" y2="1497"/><line x1="1117" y1="1523" x2="1453" y2="1523"/><line x1="1117" y1="1549" x2="1453" y2="1549"/><line x1="1117" y1="1576" x2="1453" y2="1576"/>
<line x1="1312" y1="1421" x2="1312" y2="1601"/>
</g>
<g transform="translate(2570,0) scale(-1,1)" style="font-family:'Liberation Mono',monospace;font-size:12.5px">
<text x="1130" y="1414">COMPAL ELECTRONICS. INC.</text>
<text x="1123" y="1440">PROJECT</text><text x="1123" y="1466">BOARD NO.</text><text x="1123" y="1491">LAYER NO.</text><text x="1123" y="1516">DRAW BY</text><text x="1123" y="1541">Issued  Date</text><text x="1123" y="1568">Security level</text><text x="1123" y="1594">Decipherment date</text>
<text x="1280" y="1436">ZBW00</text><text x="1268" y="1462">LA-B481P  REV: 1.0(A00)</text><text x="1270" y="1487">SILKSCREEN_BOTTOM</text><text x="1288" y="1512">Juce</text><text x="1280" y="1539">2014-03-10</text><text x="1272" y="1565">Confidential</text><text x="1280" y="1593">2015-03-10</text>
</g>
</svg>
</body></html>
